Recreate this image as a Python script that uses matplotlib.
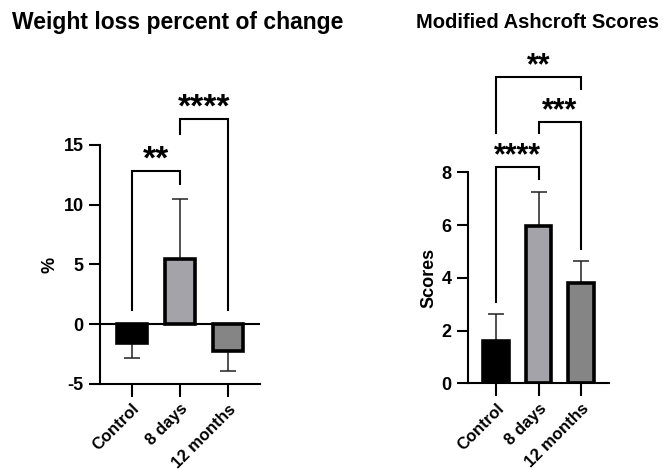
import numpy as np
import matplotlib.pyplot as plt

plt.rcParams['font.family'] = ['Liberation Sans', 'DejaVu Sans']
plt.rcParams['font.weight'] = 'bold'
plt.rcParams['axes.unicode_minus'] = False

groups = ["Control", "8 days", "12 months"]
colors = ["#000000", "#a4a3a9", "#858585"]

# weight loss, % of change
wl_mean = [-1.6, 5.5, -2.25]
wl_err = [1.2, 4.95, 1.65]
# brackets: (i, j, height, left leg end, right leg end, label)
wl_brackets = [(0, 1, 12.8, 1.2, 11.7, "**"),
               (1, 2, 17.2, 15.9, 1.2, "****")]

# modified ashcroft scores
as_mean = [1.62, 5.96, 3.79]
as_err = [1.0, 1.3, 0.84]
as_brackets = [(0, 1, 8.2, 3.1, 7.75, "****"),
               (1, 2, 9.91, 9.47, 5.1, "***"),
               (0, 2, 11.61, 9.47, 11.17, "**")]


def draw_panel(ax, mean, err, brackets, ylim, yticks, ylabel, star_size, width):
    x = np.arange(len(groups))
    lo = [e if m < 0 else 0 for m, e in zip(mean, err)]
    hi = [e if m >= 0 else 0 for m, e in zip(mean, err)]
    ax.errorbar(x, mean, yerr=[lo, hi], fmt="none", ecolor="#222222",
                elinewidth=1.1, capsize=6, capthick=1.1, zorder=1)
    ax.bar(x, mean, width=width, color=colors, edgecolor="black",
           linewidth=2.6, zorder=2)
    for i, j, h, l1, l2, lab in brackets:
        ax.plot([i, i, j, j], [l1, h, h, l2], color="black", lw=1.5,
                clip_on=False, solid_joinstyle="miter")
        ax.annotate(lab, ((i + j) / 2, h), xytext=(0, 8),
                    textcoords="offset points", ha="center", va="center",
                    fontsize=star_size, fontweight="bold",
                    annotation_clip=False)
    ax.set_ylim(*ylim)
    ax.set_xlim(-0.67, 2.66)
    ax.set_yticks(yticks)
    ax.set_xticks(x)
    ax.set_xticklabels(groups, rotation=45, ha="right",
                       rotation_mode="anchor", fontsize=12, fontweight="bold")
    ax.tick_params(axis="y", labelsize=13, width=1.5, length=8)
    ax.tick_params(axis="x", width=1.5, length=9)
    for lab in ax.get_yticklabels():
        lab.set_fontweight("bold")
    ax.set_ylabel(ylabel, fontsize=13, fontweight="bold")
    for s in ["top", "right"]:
        ax.spines[s].set_visible(False)
    for s in ["left", "bottom"]:
        ax.spines[s].set_linewidth(1.5)


fig = plt.figure(figsize=(6.64, 4.70), dpi=100)

ax1 = fig.add_axes([0.150, 0.183, 0.2417, 0.5085])
draw_panel(ax1, wl_mean, wl_err, wl_brackets, (-5, 15), [-5, 0, 5, 10, 15],
           "%", 24, 0.62)
ax1.axhline(0, color="black", lw=1.5, zorder=3)
ax1.yaxis.set_label_coords(-0.256, 0.5)

ax2 = fig.add_axes([0.7044, 0.1845, 0.2128, 0.449])
draw_panel(ax2, as_mean, as_err, as_brackets, (0, 8), [0, 2, 4, 6, 8],
           "Scores", 22, 0.6)
ax2.yaxis.set_label_coords(-0.216, 0.5)

fig.text(0.018, 0.953, "Weight loss percent of change", fontsize=16.5,
         fontweight="bold", ha="left", va="center")
fig.text(0.627, 0.953, "Modified Ashcroft Scores", fontsize=14.5,
         fontweight="bold", ha="left", va="center")

fig.savefig("out.png", dpi=100)
